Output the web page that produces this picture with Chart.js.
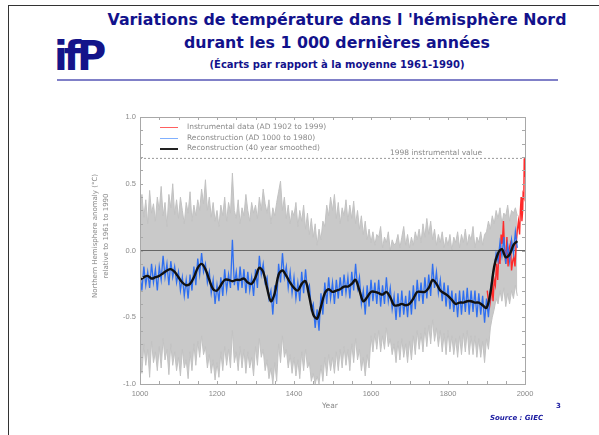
<!DOCTYPE html>
<html lang="fr">
<head>
<meta charset="utf-8">
<title>Variations de température dans l'hémisphère Nord</title>
<script src="https://cdn.jsdelivr.net/npm/chart.js"></script>
<style>
  html, body { margin: 0; padding: 0; background: #fff; }
  body { width: 599px; height: 435px; position: relative; overflow: hidden; font-family: "DejaVu Sans", sans-serif; }
  #cadre { position: absolute; left: 8px; top: 5px; width: 600px; height: 440px; border-left: 1px solid #333; border-top: 1px solid #333; }
  .titre { position: absolute; left: 37px; width: 600px; text-align: center; color: #12128c; font-weight: bold; white-space: nowrap; }
  #t1 { top: 10px; font-size: 15.8px; }
  #t2 { top: 33px; font-size: 15.8px; }
  #t3 { top: 59px; font-size: 10px; }
  #soul { position: absolute; left: 57px; top: 79px; width: 501px; height: 2px; background: #8080c8; }
  #logo { position: absolute; left: 54px; top: 36px; font-family: "DejaVu Sans", sans-serif; font-weight: bold; font-size: 40px; letter-spacing: -4px; color: #14148a; line-height: 1; }
  #graph { position: absolute; left: 0; top: 0; width: 599px; height: 435px; }
  .petit { position: absolute; color: #8a8a8a; font-size: 7.5px; white-space: nowrap; }
  .trait { position: absolute; height: 0; }
  #ytitre { position: absolute; left: 101px; top: 236px; width: 0; height: 0; }
  #ytitre div { position: absolute; transform: translate(-50%, -50%) rotate(-90deg); color: #8a8a8a; font-size: 7px; line-height: 11px; text-align: center; white-space: nowrap; }
  #source { position: absolute; left: 490px; top: 414px; font-size: 7px; font-weight: bold; font-style: italic; color: #1a1aa0; }
  #page { position: absolute; left: 556px; top: 402px; font-size: 7px; font-weight: bold; color: #1a1aa0; }
</style>
</head>
<body>
<div id="cadre"></div>
<div id="logo">ifP</div>
<div class="titre" id="t1">Variations de température dans l 'hémisphère Nord</div>
<div class="titre" id="t2">durant les 1 000 dernières années</div>
<div class="titre" id="t3">(Écarts par rapport à la moyenne 1961-1990)</div>
<div id="soul"></div>

<div id="graph"><canvas id="courbe"></canvas></div>

<!-- legende du graphique -->
<div class="trait" style="left:160px; top:127px; width:18px; border-top:1px solid #ff6060;"></div>
<div class="trait" style="left:160px; top:138px; width:18px; border-top:1px solid #80b0ff;"></div>
<div class="trait" style="left:160px; top:148px; width:18px; border-top:2px solid #222;"></div>
<div class="petit" style="left:187px; top:122px;">Instrumental data (AD 1902 to 1999)</div>
<div class="petit" style="left:187px; top:133px;">Reconstruction (AD 1000 to 1980)</div>
<div class="petit" style="left:187px; top:143px;">Reconstruction (40 year smoothed)</div>
<div class="petit" style="left:390px; top:148px;">1998 instrumental value</div>
<div class="petit" style="left:322px; top:401px;">Year</div>
<div id="ytitre"><div>Northern Hemisphere anomaly (°C)<br>relative to 1961 to 1990</div></div>

<div id="page">3</div>
<div id="source">Source : GIEC</div>

<script>
  // Bornes des axes
  var ANNEE_MIN = 1000, ANNEE_MAX = 2000;
  var ECART_MIN = -1, ECART_MAX = 1;
  var VALEUR_1998 = 0.69;

  // Bande d'incertitude (gris), une valeur tous les 5 ans de 1000 a 1980
  var PAS_BANDE = 5;
  var grisHaut = [
    0.30,0.42,0.25,0.38,0.20,0.45,0.28,0.35,0.22,0.40,0.30,0.48,0.26,0.36,0.18,0.42,0.32,0.50,0.27,0.38,
    0.24,0.40,0.30,0.20,0.36,0.28,0.44,0.22,0.34,0.26,0.38,0.30,0.46,0.35,0.53,0.30,0.40,0.25,0.36,0.22,
    0.30,0.18,0.34,0.26,0.40,0.22,0.36,0.28,0.58,0.30,0.24,0.38,0.20,0.32,0.26,0.42,0.30,0.22,0.36,0.28,
    0.34,0.24,0.40,0.30,0.46,0.35,0.28,0.38,0.20,0.32,0.26,0.36,0.44,0.52,0.30,0.40,0.24,0.34,0.20,0.30,
    0.26,0.36,0.18,0.30,0.22,0.34,0.16,0.28,0.12,0.24,0.10,0.20,0.04,0.16,0.08,0.22,0.18,0.34,0.26,0.40,
    0.30,0.42,0.24,0.36,0.20,0.32,0.26,0.38,0.22,0.34,0.24,0.37,0.20,0.30,0.16,0.26,0.12,0.22,0.08,0.16,
    0.06,0.14,0.04,0.12,0.10,0.18,0.02,0.10,0.06,0.14,0.00,0.08,0.04,0.06,0.12,0.02,0.10,0.18,0.04,0.12,
    0.02,0.10,0.04,0.14,0.08,0.16,0.06,0.20,0.10,0.24,0.12,0.22,0.08,0.16,0.04,0.12,0.06,0.14,0.02,0.10,
    0.04,0.12,0.00,0.10,0.06,0.14,0.02,0.12,0.06,0.16,0.04,0.12,0.08,0.18,0.02,0.10,0.06,0.14,0.04,0.12,
    0.14,0.22,0.16,0.26,0.20,0.30,0.24,0.32,0.20,0.28,0.26,0.34,0.22,0.30,0.28,0.32,0.26
  ];
  var grisBas = [
    -0.78,-0.92,-0.70,-0.86,-0.74,-0.95,-0.68,-0.84,-0.76,-0.90,-0.72,-0.88,-0.66,-0.82,-0.74,-0.93,-0.70,-0.86,-0.76,-0.90,
    -0.80,-0.94,-0.74,-0.88,-0.82,-0.96,-0.76,-0.90,-0.70,-0.86,-0.68,-0.80,-0.64,-0.78,-0.72,-0.88,-0.78,-0.92,-0.82,-0.97,
    -0.84,-0.95,-0.76,-0.90,-0.72,-0.86,-0.74,-0.88,-0.60,-0.84,-0.76,-0.90,-0.72,-0.88,-0.74,-0.92,-0.76,-0.88,-0.80,-0.94,
    -0.72,-0.86,-0.66,-0.80,-0.74,-0.90,-0.82,-0.96,-0.88,-1.00,-0.84,-0.98,-0.70,-0.84,-0.64,-0.80,-0.74,-0.88,-0.78,-0.92,
    -0.80,-0.94,-0.82,-0.96,-0.76,-0.90,-0.74,-0.88,-0.84,-0.98,-0.92,-1.00,-0.94,-1.00,-0.86,-0.98,-0.80,-0.94,-0.78,-0.90,
    -0.80,-0.92,-0.76,-0.90,-0.74,-0.88,-0.72,-0.86,-0.74,-0.90,-0.70,-0.84,-0.66,-0.82,-0.74,-0.90,-0.80,-0.94,-0.78,-0.88,
    -0.64,-0.76,-0.62,-0.74,-0.60,-0.76,-0.64,-0.74,-0.58,-0.72,-0.66,-0.78,-0.70,-0.84,-0.68,-0.82,-0.66,-0.80,-0.70,-0.84,
    -0.68,-0.82,-0.64,-0.78,-0.60,-0.74,-0.62,-0.76,-0.58,-0.72,-0.56,-0.70,-0.52,-0.68,-0.58,-0.72,-0.60,-0.76,-0.62,-0.78,
    -0.60,-0.76,-0.64,-0.78,-0.66,-0.80,-0.64,-0.78,-0.62,-0.76,-0.60,-0.78,-0.64,-0.78,-0.64,-0.80,-0.66,-0.80,-0.68,-0.84,
    -0.66,-0.74,-0.58,-0.50,-0.44,-0.36,-0.40,-0.30,-0.38,-0.28,-0.42,-0.32,-0.40,-0.30,-0.36,-0.26,-0.34
  ];

  // Reconstruction annuelle (bleu), tous les 5 ans de 1000 a 1980
  var reconstruction = [
    -0.18,-0.30,-0.12,-0.26,-0.16,-0.28,-0.10,-0.24,-0.14,-0.30,-0.12,-0.22,-0.04,-0.20,-0.10,-0.26,-0.08,-0.20,-0.12,-0.24,
    -0.16,-0.30,-0.20,-0.34,-0.22,-0.36,-0.18,-0.30,-0.12,-0.26,-0.06,-0.18,-0.02,-0.16,-0.10,-0.24,-0.16,-0.32,-0.22,-0.40,
    -0.26,-0.38,-0.20,-0.34,-0.14,-0.30,-0.18,-0.28,0.08,-0.26,-0.16,-0.30,-0.12,-0.28,-0.14,-0.32,-0.16,-0.30,-0.20,-0.34,
    -0.14,-0.28,-0.04,-0.18,-0.10,-0.24,-0.20,-0.36,-0.30,-0.48,-0.26,-0.40,-0.10,-0.24,-0.02,-0.20,-0.12,-0.28,-0.16,-0.32,
    -0.20,-0.36,-0.24,-0.38,-0.16,-0.32,-0.14,-0.30,-0.26,-0.44,-0.40,-0.58,-0.44,-0.60,-0.32,-0.48,-0.24,-0.40,-0.20,-0.36,
    -0.24,-0.40,-0.22,-0.36,-0.20,-0.34,-0.18,-0.32,-0.20,-0.36,-0.16,-0.30,-0.10,-0.28,-0.20,-0.40,-0.30,-0.48,-0.26,-0.42,
    -0.22,-0.38,-0.24,-0.40,-0.22,-0.42,-0.26,-0.40,-0.20,-0.38,-0.28,-0.44,-0.34,-0.52,-0.32,-0.50,-0.30,-0.48,-0.34,-0.50,
    -0.30,-0.48,-0.26,-0.44,-0.22,-0.38,-0.24,-0.40,-0.20,-0.36,-0.18,-0.34,-0.10,-0.28,-0.16,-0.32,-0.22,-0.38,-0.24,-0.42,
    -0.26,-0.44,-0.30,-0.46,-0.32,-0.50,-0.30,-0.48,-0.30,-0.46,-0.28,-0.48,-0.30,-0.46,-0.30,-0.50,-0.32,-0.48,-0.34,-0.54,
    -0.36,-0.50,-0.30,-0.20,-0.14,-0.02,-0.08,0.06,-0.04,0.10,-0.10,0.04,-0.08,0.08,-0.02,0.14,0.02
  ];

  // Reconstruction lissee sur 40 ans (noir), tous les 10 ans de 1000 a 1980
  var PAS_LISSE = 10;
  var lissee = [
    -0.22,-0.20,-0.19,-0.21,-0.20,-0.19,-0.17,-0.15,-0.14,-0.16,
    -0.20,-0.24,-0.26,-0.25,-0.20,-0.13,-0.10,-0.14,-0.22,-0.29,
    -0.30,-0.26,-0.22,-0.22,-0.23,-0.22,-0.22,-0.21,-0.24,-0.25,
    -0.20,-0.13,-0.16,-0.28,-0.38,-0.32,-0.18,-0.15,-0.19,-0.24,
    -0.28,-0.30,-0.25,-0.23,-0.35,-0.48,-0.51,-0.42,-0.32,-0.29,
    -0.31,-0.30,-0.29,-0.27,-0.27,-0.25,-0.22,-0.30,-0.38,-0.35,
    -0.31,-0.31,-0.32,-0.33,-0.31,-0.35,-0.41,-0.41,-0.40,-0.41,
    -0.40,-0.36,-0.31,-0.31,-0.31,-0.28,-0.22,-0.25,-0.30,-0.32,
    -0.34,-0.37,-0.40,-0.39,-0.39,-0.38,-0.38,-0.39,-0.39,-0.41,
    -0.43,-0.32,-0.12,-0.02,0.01,-0.05,-0.03,0.04,0.07
  ];

  // Donnees instrumentales (rouge)
  var anneesInstru = [1902,1905,1908,1911,1914,1917,1920,1923,1926,1929,1932,1935,1938,1941,1944,1947,1950,1953,1956,1959,
                      1962,1965,1968,1971,1974,1977,1980,1983,1986,1988,1990,1992,1994,1995,1997,1998,1999];
  var instrumental = [-0.30,-0.38,-0.42,-0.36,-0.25,-0.38,-0.22,-0.26,-0.10,-0.22,-0.02,-0.10,0.12,0.05,0.22,0.00,-0.10,0.10,-0.12,0.02,
                      0.05,-0.15,-0.08,-0.05,-0.12,0.05,0.15,0.22,0.12,0.30,0.40,0.22,0.30,0.42,0.40,0.69,0.55];

  function enPoints(valeurs, debut, pas) {
    return valeurs.map(function (v, i) { return { x: debut + i * pas, y: v }; });
  }

  // Cadre et petites graduations vers l'interieur
  var cadrePlugin = {
    id: 'cadre',
    afterDraw: function (chart) {
      var ctx = chart.ctx, a = chart.chartArea;
      var sx = chart.scales.x, sy = chart.scales.y;
      ctx.save();
      ctx.strokeStyle = '#a8a8a8';
      ctx.lineWidth = 1;
      ctx.strokeRect(a.left + 0.5, a.top + 0.5, a.right - a.left, a.bottom - a.top);
      ctx.beginPath();
      sx.ticks.forEach(function (t) {
        var px = Math.round(sx.getPixelForValue(t.value)) + 0.5;
        ctx.moveTo(px, a.bottom); ctx.lineTo(px, a.bottom - 3);
        ctx.moveTo(px, a.top); ctx.lineTo(px, a.top + 3);
      });
      sy.ticks.forEach(function (t) {
        var py = Math.round(sy.getPixelForValue(t.value)) + 0.5;
        ctx.moveTo(a.left, py); ctx.lineTo(a.left + 3, py);
        ctx.moveTo(a.right, py); ctx.lineTo(a.right - 3, py);
      });
      ctx.stroke();
      ctx.restore();
    }
  };

  new Chart(document.getElementById('courbe'), {
    type: 'line',
    data: {
      datasets: [
        {
          label: 'haut',
          data: enPoints(grisHaut, ANNEE_MIN, PAS_BANDE),
          borderColor: '#c2c2c2', borderWidth: 1, pointRadius: 0, fill: false, order: 10
        },
        {
          label: 'bas',
          data: enPoints(grisBas, ANNEE_MIN, PAS_BANDE),
          borderColor: '#c2c2c2', borderWidth: 1, pointRadius: 0,
          fill: '-1', backgroundColor: '#c9c9c9', order: 10
        },
        {
          label: 'zero',
          data: [{ x: ANNEE_MIN, y: 0 }, { x: ANNEE_MAX, y: 0 }],
          borderColor: '#666', borderWidth: 1, pointRadius: 0, order: 6
        },
        {
          label: '1998',
          data: [{ x: ANNEE_MIN, y: VALEUR_1998 }, { x: ANNEE_MAX, y: VALEUR_1998 }],
          borderColor: '#999', borderWidth: 1, borderDash: [2, 2], pointRadius: 0, order: 6
        },
        {
          label: 'Instrumental data (AD 1902 to 1999)',
          data: anneesInstru.map(function (an, i) { return { x: an, y: instrumental[i] }; }),
          borderColor: '#ff2a2a', borderWidth: 1.4, pointRadius: 0, order: 3
        },
        {
          label: 'Reconstruction (AD 1000 to 1980)',
          data: enPoints(reconstruction, ANNEE_MIN, PAS_BANDE),
          borderColor: '#2f6ff0', borderWidth: 1.3, pointRadius: 0, order: 2
        },
        {
          label: 'Reconstruction (40 year smoothed)',
          data: enPoints(lissee, ANNEE_MIN, PAS_LISSE),
          borderColor: '#111', borderWidth: 2.4, pointRadius: 0, tension: 0.35, order: 1
        }
      ]
    },
    options: {
      responsive: true,
      maintainAspectRatio: false,
      animation: false,
      layout: { padding: { left: 106, top: 117, right: 74, bottom: 35 } },
      plugins: { legend: { display: false }, tooltip: { enabled: false } },
      scales: {
        x: {
          type: 'linear', min: ANNEE_MIN, max: ANNEE_MAX,
          grid: { display: false, drawTicks: false },
          border: { display: false },
          afterFit: function (s) { s.height = 16; },
          ticks: {
            stepSize: 50, autoSkip: false, maxRotation: 0, color: '#8a8a8a', font: { size: 7.5 }, padding: 5,
            callback: function (v) { return v % 200 === 0 ? String(v) : ''; }
          }
        },
        y: {
          min: ECART_MIN, max: ECART_MAX,
          grid: { display: false, drawTicks: false },
          border: { display: false },
          afterFit: function (s) { s.width = 34; },
          ticks: {
            stepSize: 0.1, autoSkip: false, color: '#8a8a8a', font: { size: 7.5 }, padding: 4,
            callback: function (v) { return Math.round(v * 10) % 5 === 0 ? v.toFixed(1) : ''; }
          }
        }
      }
    },
    plugins: [cadrePlugin]
  });
</script>
</body>
</html>
